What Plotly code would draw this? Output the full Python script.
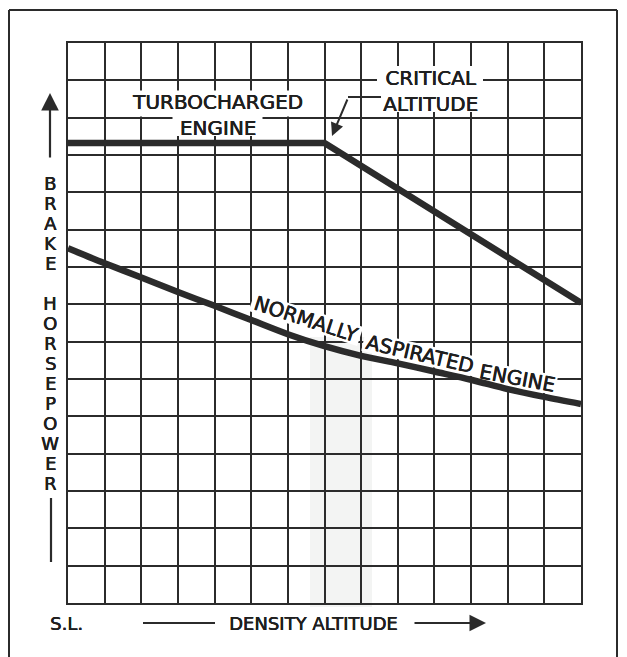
import math
import plotly.graph_objects as go

# ---- data (grid units: x = density altitude, y = brake horsepower) ----
turbo_alt = [0, 7, 14]
turbo_bhp = [12.32, 12.32, 8.04]

na_alt = [0, 1, 2, 3, 4, 5, 6, 7, 8, 9, 10, 11, 12, 13, 14]
na_bhp = [9.50, 9.10, 8.72, 8.33, 7.96, 7.58, 7.20, 6.88, 6.62, 6.42, 6.20, 5.98, 5.73, 5.52, 5.33]

y_label = "BRAKE HORSEPOWER"

# ---- layout geometry helpers (reference pixel -> axis / paper) ----
OFF = 8  # page body margin
W, H = 627 - OFF, 657 - OFF
L, R, T, B = 68, 581, 43, 603  # plot area in reference pixels
XN, YN = 14, 15
INK = "#2b2b2b"
TXT = "#1f1f1f"
FONT = "DejaVu Sans"
BOLDEN = "0.45px 0 0 #1f1f1f, 0 0.3px 0 #1f1f1f"


def ux(px):
    return (px - L) / ((R - L) / XN)


def uy(py):
    return (B - py) / ((B - T) / YN)


def pxp(px):
    return (px - L) / (R - L)


def pyp(py):
    return (B - py) / (B - T)


fig = go.Figure()
fig.add_trace(go.Scatter(x=turbo_alt, y=turbo_bhp, mode="lines",
                         line=dict(color=INK, width=6.5), hoverinfo="skip"))
fig.add_trace(go.Scatter(x=na_alt, y=na_bhp, mode="lines",
                         line=dict(color=INK, width=6.5, shape="spline", smoothing=0.8),
                         hoverinfo="skip"))

ann = []
shapes = []


def text(x, y, s, size=20, angle=0, ref="data", h=None):
    d = dict(text=s, showarrow=False,
             font=dict(family=FONT, size=size, color=TXT, shadow=BOLDEN),
             textangle=angle, borderpad=0, xanchor="center", yanchor="middle")
    if h:
        d["height"] = h
    if ref == "data":
        d.update(x=ux(x), y=uy(y), xref="x", yref="y")
    else:
        d.update(x=pxp(x), y=pyp(y), xref="paper", yref="paper")
    ann.append(d)


def white_box(cx, cy, w, h, angle=0):
    """Rotated white rectangle drawn between grid and traces (pixel spec)."""
    a = math.radians(angle)
    ca, sa = math.cos(a), math.sin(a)
    pts = []
    for dx, dy in [(-w / 2, -h / 2), (w / 2, -h / 2), (w / 2, h / 2), (-w / 2, h / 2)]:
        px = cx + dx * ca - dy * sa
        py = cy + dx * sa + dy * ca
        pts.append((ux(px), uy(py)))
    path = "M " + " L ".join(f"{p[0]:.4f},{p[1]:.4f}" for p in pts) + " Z"
    shapes.append(dict(type="path", path=path, xref="x", yref="y", fillcolor="white",
                       line=dict(width=0), layer="between"))


# two-line labels with white knock-out boxes behind each line
white_box(217.5, 103.5, 178, 26)
white_box(217.5, 126, 90, 20)
text(217, 115, "TURBOCHARGED<br>ENGINE")

white_box(430, 78, 106, 24)
white_box(430, 101, 100, 22)
text(430, 91, "CRITICAL<br>ALTITUDE")

# normally aspirated label follows the curve
na_words = [("NORMALLY", 306, 319, 18, 114),
            ("ASPIRATED", 420, 354, 13, 116),
            ("ENGINE", 517, 378, 10.5, 80)]
for word, cx, cy, ang, wpx in na_words:
    white_box(cx, cy, wpx, 20, ang)
    text(cx, cy, word, angle=ang)

# critical altitude arrow
ann.append(dict(x=ux(332), y=uy(136), xref="x", yref="y", ax=ux(348), ay=uy(98),
                axref="x", ayref="y", text="", showarrow=True, arrowhead=2,
                arrowsize=1.3, arrowwidth=2, arrowcolor=INK, standoff=0))

# y axis letters
for i, ch in enumerate(y_label):
    if ch == " ":
        continue
    text(50, 183 + 20 * i, ch, size=18, ref="paper", h=18)

# y axis arrow up
ann.append(dict(x=pxp(50), y=pyp(93), xref="paper", yref="paper", ax=0, ay=66,
                text="", showarrow=True, arrowhead=2, arrowsize=1.6, arrowwidth=2.2,
                arrowcolor=INK, standoff=0))

# x axis labels
text(66.5, 623, "S.L.", size=18, ref="paper")
text(313.5, 623, "DENSITY ALTITUDE", size=18, ref="paper")
ann.append(dict(x=pxp(486), y=pyp(623), xref="paper", yref="paper", ax=-73, ay=0,
                text="", showarrow=True, arrowhead=2, arrowsize=1.5, arrowwidth=2.2,
                arrowcolor=INK, standoff=0))

shapes = [
    # faint scan band
    dict(type="rect", xref="paper", yref="paper", x0=pxp(310), x1=pxp(372),
         y0=pyp(607), y1=pyp(337), fillcolor="#f3f4f3", line=dict(width=0), layer="below"),
] + shapes + [
    # connector for critical altitude label
    dict(type="line", xref="x", yref="y", x0=ux(348), y0=uy(97), x1=ux(381), y1=uy(97),
         line=dict(color=INK, width=2)),
    # y axis lower line
    dict(type="line", xref="paper", yref="paper", x0=pxp(51), x1=pxp(51),
         y0=pyp(498), y1=pyp(562), line=dict(color=INK, width=2.2)),
    # x axis left line
    dict(type="line", xref="paper", yref="paper", x0=pxp(143), x1=pxp(215),
         y0=pyp(623), y1=pyp(623), line=dict(color=INK, width=2.2)),
    # outer frame
    dict(type="line", xref="paper", yref="paper", x0=pxp(9), x1=pxp(617),
         y0=pyp(10), y1=pyp(10), line=dict(color=INK, width=2)),
    dict(type="line", xref="paper", yref="paper", x0=pxp(9), x1=pxp(9),
         y0=pyp(10), y1=pyp(660), line=dict(color=INK, width=2)),
    dict(type="line", xref="paper", yref="paper", x0=pxp(617), x1=pxp(617),
         y0=pyp(10), y1=pyp(660), line=dict(color=INK, width=2)),
]

axis_common = dict(showgrid=True, gridcolor=INK, gridwidth=2, dtick=1, tick0=0,
                   showticklabels=False, ticks="", zeroline=False, showline=True,
                   linecolor=INK, linewidth=2, mirror=True, fixedrange=True)

fig.update_layout(
    width=W, height=H,
    margin=dict(l=L - OFF, r=627 - R, t=T - OFF, b=657 - B),
    paper_bgcolor="white", plot_bgcolor="white",
    showlegend=False,
    xaxis=dict(range=[0, XN], **axis_common),
    yaxis=dict(range=[0, YN], **axis_common),
    annotations=ann,
    shapes=shapes,
)

fig.write_html("out.html")
